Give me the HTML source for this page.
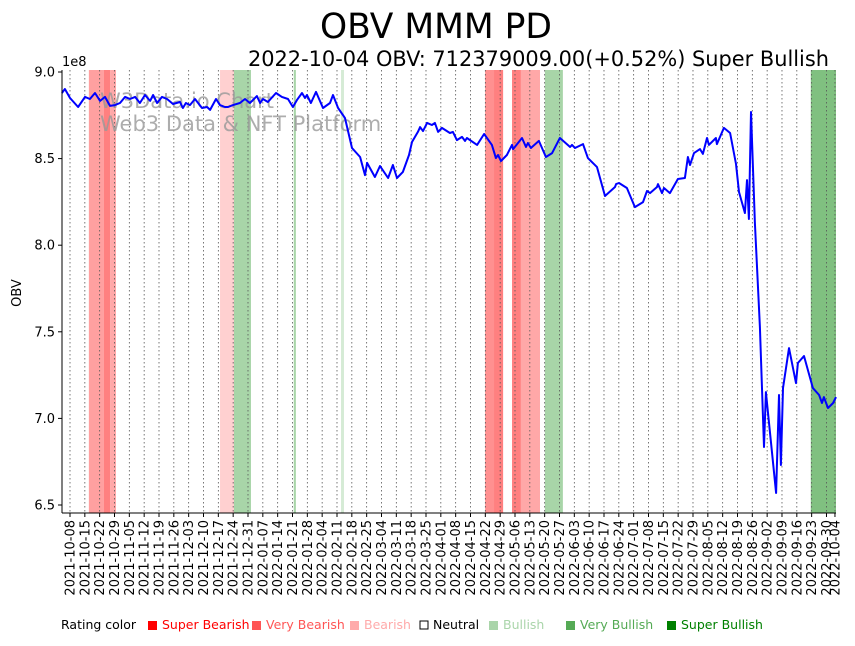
<!DOCTYPE html>
<html><head><meta charset="utf-8"><style>
body{margin:0;background:#fff;font-family:"Liberation Sans","DejaVu Sans",sans-serif}
svg text{font-family:"DejaVu Sans","Liberation Sans",sans-serif}
</style></head><body>
<svg id="chart" width="855" height="641" xmlns="http://www.w3.org/2000/svg">
<text x="436" y="38" font-size="34.5" text-anchor="middle">OBV MMM PD</text>
<text x="829" y="66" font-size="20.9" text-anchor="end">2022-10-04 OBV: 712379009.00(+0.52%) Super Bullish</text>
<g id="bands"></g>
<g id="grid"></g>
<text x="100" y="108" font-size="21" fill="#999" fill-opacity="0.8">W3Data.io Chart</text>
<text x="100" y="131" font-size="21" fill="#999" fill-opacity="0.8">Web3 Data &amp; NFT Platform</text>
<g id="series"></g>
<g id="axes"></g>
<text x="62" y="66" font-size="13">1e8</text>
<text transform="translate(21,293) rotate(-90)" font-size="13" text-anchor="middle">OBV</text>
<g id="legend" font-size="12.5">
<text x="61" y="629">Rating color</text>
<rect x="148" y="621" width="9" height="9" fill="#ff0000"/><text x="162" y="629" fill="#ff0000">Super Bearish</text>
<rect x="252" y="621" width="9" height="9" fill="#ff5555"/><text x="266" y="629" fill="#ff5555">Very Bearish</text>
<rect x="350" y="621" width="9" height="9" fill="#ffaaaa"/><text x="364" y="629" fill="#ffaaaa">Bearish</text>
<rect x="420" y="621" width="8" height="8" fill="#fff" stroke="#000"/><text x="433" y="629" fill="#000">Neutral</text>
<rect x="489" y="621" width="9" height="9" fill="#aad5aa"/><text x="503" y="629" fill="#aad5aa">Bullish</text>
<rect x="566" y="621" width="9" height="9" fill="#55aa55"/><text x="580" y="629" fill="#55aa55">Very Bullish</text>
<rect x="667" y="621" width="9" height="9" fill="#008000"/><text x="681" y="629" fill="#008000">Super Bullish</text>
</g>
</svg>
<script>
const days=[-3.8,-2.4,0,3.8,7.1,9.4,11.8,14.2,16.5,18.9,21.2,23.6,26,28.3,30.7,33,35.4,37.8,39.2,41.1,43.4,45.8,48.6,51.9,53.3,54.7,56.6,59,62.3,64.7,66.1,68.9,70.8,73.1,74.6,76.9,80.2,82.6,84.9,88.2,89.7,91.1,93.4,97.2,100,102.9,105.2,107.1,109.5,110.9,111.8,113.7,116.1,119.4,122.7,124.1,126.5,129.8,133.1,136.9,139.2,140.2,143.9,146.3,150.1,152.4,154.3,157.1,160,161.4,164.2,165.2,166.6,168.5,170.8,172.2,173.7,175.5,179.3,180.7,182.6,185,186.4,187.3,192.1,195.4,199.1,201,202,203.4,206.2,208.6,209.1,213.3,215.2,216.1,217.5,221.3,224.6,227.5,231.2,236,236.9,238.3,242.1,244.4,248.7,252.5,257.2,257.7,259.1,262.8,266.6,270.4,272.3,273.7,277,277.5,279.4,280.3,283.1,286.9,290.2,291.6,292.6,294.5,297.3,298.7,300.6,301.5,304.8,305.3,308.6,311.5,314.3,315.7,318.5,319.5,320.4,321.4,323.2,325.6,327.5,328.4,333.2,334.6,335.5,336.5,339.3,342.6,343.5,346.4,350.6,353.5,354.9,355.8,357.7,360.1,361.5];
const obv=[8.879,8.902,8.85,8.798,8.856,8.844,8.879,8.833,8.856,8.804,8.809,8.821,8.856,8.844,8.856,8.821,8.867,8.833,8.867,8.821,8.856,8.844,8.815,8.827,8.792,8.821,8.809,8.844,8.792,8.798,8.781,8.844,8.809,8.798,8.798,8.809,8.821,8.844,8.821,8.861,8.821,8.844,8.827,8.879,8.856,8.844,8.798,8.838,8.879,8.85,8.867,8.821,8.885,8.792,8.821,8.867,8.792,8.734,8.561,8.509,8.405,8.475,8.394,8.457,8.388,8.463,8.388,8.423,8.521,8.596,8.654,8.682,8.659,8.706,8.694,8.706,8.654,8.677,8.648,8.654,8.607,8.625,8.602,8.619,8.579,8.642,8.579,8.503,8.521,8.486,8.521,8.579,8.555,8.619,8.567,8.59,8.561,8.602,8.509,8.532,8.619,8.567,8.579,8.561,8.584,8.503,8.451,8.284,8.336,8.353,8.359,8.33,8.22,8.249,8.313,8.301,8.336,8.353,8.301,8.33,8.301,8.382,8.388,8.509,8.463,8.532,8.555,8.527,8.619,8.579,8.619,8.584,8.677,8.648,8.469,8.307,8.186,8.376,8.151,8.769,8.128,7.528,6.835,7.152,6.569,7.135,6.731,7.175,7.406,7.204,7.32,7.36,7.175,7.135,7.089,7.123,7.06,7.089,7.123];
const bandStart=[8.9,15.9,18.9,70.8,77.4,105.6,127.9,195.9,200.1,208.6,212.8,224.1,349.6];
const bandEnd=[15.9,18.9,21.7,77.4,85.4,106.6,129.3,200.1,204.4,212.8,221.8,232.6,361.6];
const bandColor=["#ffa0a0","#ff8080","#ffa8a8","#ffd0d0","#a8d5a8","#a8d5a8","#d5ebd5","#ff9090","#ff8080","#ff8080","#ffa8a8","#a8d5a8","#80c080"];
const yTicks=[6.5,7.0,7.5,8.0,8.5,9.0];
const tickLabels=[];
(function(){const s=Date.UTC(2021,9,8);for(let d=0;d<=357;d+=7){tickLabels.push(new Date(s+d*864e5).toISOString().slice(0,10));}tickLabels.push("2022-10-04");})();
const X0=62,X1=836,Y0=70,Y1=513;
function xs(d){return 70+d*2.119;}
function ys(v){return 72+(9-v)*173.2;}
function dayOf(lbl){return (Date.parse(lbl)-Date.UTC(2021,9,8))/864e5;}
const NS="http://www.w3.org/2000/svg";
function mk(t,a,p){const e=document.createElementNS(NS,t);for(const k in a)e.setAttribute(k,a[k]);p.appendChild(e);return e;}
const bands=document.getElementById('bands');
bandStart.forEach((s,i)=>{const r=mk('rect',{x:xs(s),y:Y0,width:Math.min(xs(bandEnd[i]),X1)-xs(s),height:Y1-Y0,fill:bandColor[i]},bands);

});
const grid=document.getElementById('grid'),axes=document.getElementById('axes');
tickLabels.forEach(l=>{const x=xs(dayOf(l));
const g=mk('line',{x1:x,x2:x,y1:Y0,y2:Y1,stroke:'#555','stroke-width':0.8,'stroke-dasharray':'1.5,2.5'},grid);


mk('line',{x1:x,x2:x,y1:Y1,y2:Y1+4,stroke:'#000'},axes);
const t=mk('text',{transform:`translate(${x+4.5},${Y1+7}) rotate(-90)`,'font-size':13,'text-anchor':'end'},axes);t.textContent=l;

});
yTicks.forEach(v=>{const y=ys(v);mk('line',{x1:X0-4,x2:X0,y1:y,y2:y,stroke:'#000'},axes);
const t=mk('text',{x:X0-7,y:y+4.5,'font-size':13,'text-anchor':'end'},axes);t.textContent=v.toFixed(1);

});
const l1=mk('line',{x1:X0,x2:X0,y1:Y0,y2:Y1,stroke:'#000'},axes);


const l2=mk('line',{x1:X0,x2:X1,y1:Y1,y2:Y1,stroke:'#000'},axes);


const pts=days.map((d,i)=>xs(d).toFixed(1)+','+ys(obv[i]).toFixed(1)).join(' ');
const pl=mk('polyline',{points:pts,fill:'none',stroke:'#0000ff','stroke-width':2,'stroke-linejoin':'round'},document.getElementById('series'));


</script>
</body></html>
